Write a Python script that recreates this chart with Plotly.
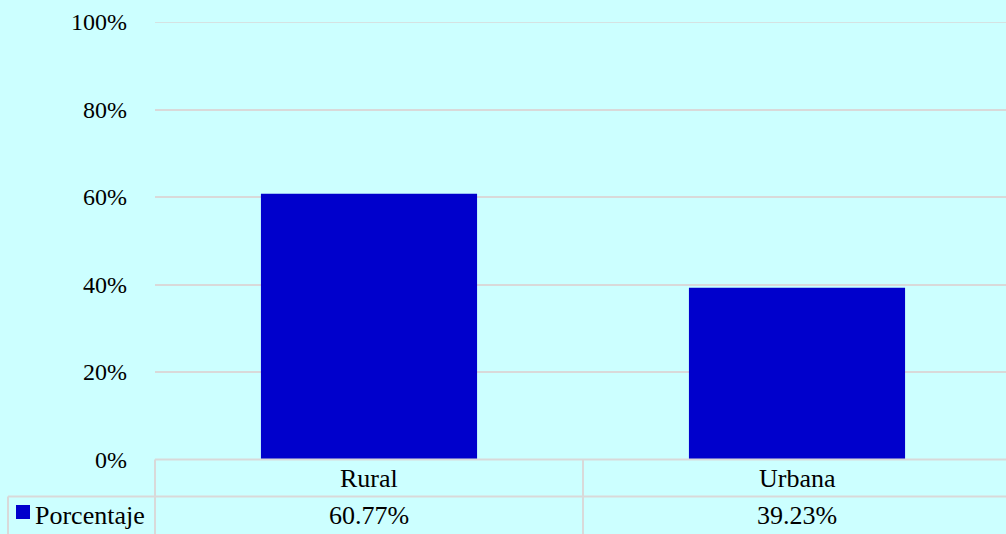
import plotly.graph_objects as go

# Data
categories = ["Rural", "Urbana"]
porcentaje = [60.77, 39.23]
series_name = "Porcentaje"
y_ticks = [0, 20, 40, 60, 80, 100]

W, H = 1006, 534
BG = "#CCFFFF"
BAR = "#0000CC"
GRID = "#D9D9D9"
FAMILY = "Liberation Serif, Times New Roman, serif"
TICK_FONT = dict(family=FAMILY, size=24, color="black")
TABLE_FONT = dict(family=FAMILY, size=26, color="black")


def px_x(p):
    return p / W


def px_y(p):
    return (H - p) / H


# plot area geometry (pixels)
left, top, zero = 155, 22, 459.5
cat_w = 428
tbl_mid, tbl_bot, legend_left = 496.5, 534, 8

fig = go.Figure()
fig.add_trace(go.Bar(
    x=list(range(len(categories))),
    y=porcentaje,
    name=series_name,
    width=0.505,
    marker=dict(color=BAR, line=dict(width=0)),
    showlegend=False,
    hoverinfo="skip",
))

x_end = -0.5 + (W - left) / cat_w

fig.update_layout(
    width=W, height=H,
    margin=dict(l=0, r=0, t=0, b=0, autoexpand=False),
    paper_bgcolor=BG, plot_bgcolor=BG,
    font=TICK_FONT,
    xaxis=dict(
        domain=[px_x(left), 1], range=[-0.5, x_end],
        showticklabels=False, showgrid=False, zeroline=False, ticks="",
        automargin=False,
    ),
    yaxis=dict(
        domain=[px_y(zero), px_y(top)], range=[0, 100],
        tickvals=y_ticks, ticktext=[f"{v}%" for v in y_ticks],
        showgrid=True, gridcolor=GRID, gridwidth=1.5,
        zeroline=False, ticks="", ticklabelstandoff=27,
        tickfont=TICK_FONT, automargin=False,
    ),
)

shapes = []
line = dict(color=GRID, width=2)
# top gridline at the end of the value axis
shapes.append(dict(type="line", xref="paper", yref="y", layer="below",
                   x0=px_x(left), x1=1, y0=y_ticks[-1], y1=y_ticks[-1],
                   line=dict(color=GRID, width=1.5)))
# table horizontal rules
shapes.append(dict(type="line", xref="paper", yref="paper",
                   x0=px_x(left), x1=1, y0=px_y(zero), y1=px_y(zero), line=line))
shapes.append(dict(type="line", xref="paper", yref="paper",
                   x0=px_x(legend_left), x1=1, y0=px_y(tbl_mid), y1=px_y(tbl_mid), line=line))
# table vertical rules
shapes.append(dict(type="line", xref="paper", yref="paper",
                   x0=px_x(left), x1=px_x(left), y0=px_y(zero), y1=0, line=line))
shapes.append(dict(type="line", xref="x", yref="paper",
                   x0=0.5, x1=0.5, y0=px_y(zero), y1=0, line=line))
shapes.append(dict(type="line", xref="paper", yref="paper",
                   x0=px_x(legend_left), x1=px_x(legend_left), y0=px_y(tbl_mid), y1=0, line=line))
# legend key
shapes.append(dict(type="rect", xref="paper", yref="paper",
                   x0=px_x(16), x1=px_x(30), y0=px_y(519), y1=px_y(505),
                   fillcolor=BAR, line=dict(width=0)))
fig.update_layout(shapes=shapes)

row1 = px_y((zero + tbl_mid) / 2)
row2 = px_y((tbl_mid + tbl_bot) / 2)
annotations = []
for i, (c, v) in enumerate(zip(categories, porcentaje)):
    annotations.append(dict(x=i, y=row1, xref="x", yref="paper", text=c,
                            showarrow=False, font=TABLE_FONT, xanchor="center", yanchor="middle"))
    annotations.append(dict(x=i, y=row2, xref="x", yref="paper", text=f"{v:.2f}%",
                            showarrow=False, font=TABLE_FONT, xanchor="center", yanchor="middle"))
annotations.append(dict(x=px_x(33), y=row2, xref="paper", yref="paper", text=series_name,
                        showarrow=False, font=TABLE_FONT, xanchor="left", yanchor="middle"))
fig.update_layout(annotations=annotations)

fig.write_html("out.html")
